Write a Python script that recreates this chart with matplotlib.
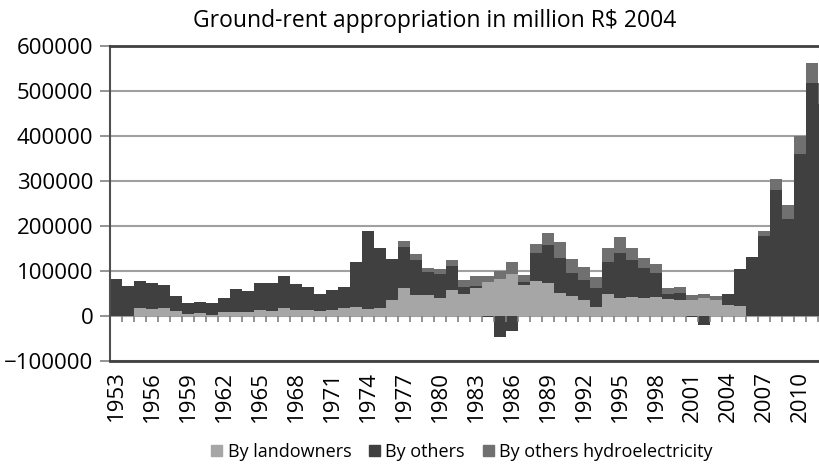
import numpy as np
import matplotlib.pyplot as plt
from matplotlib.patches import Patch

years = list(range(1953, 2013))
# million R$ 2004
landowners = [0, 0, 18000, 16000, 17000, 11000, 4000, 7000, 2000, 10000,
              10000, 10000, 13000, 12000, 18000, 14000, 14000, 12000, 14000, 17000,
              20000, 15000, 18000, 35000, 62000, 47000, 46000, 41000, 57000, 48000,
              63000, 76000, 82000, 94000, 68000, 77000, 74000, 51000, 45000, 35000,
              21000, 50000, 41000, 42000, 40000, 42000, 38000, 35000, 36000, 40000,
              35000, 25000, 22000, 0, 0, 0, 0, 0, 0, 0]
others = [83000, 67000, 60000, 58000, 53000, 34000, 26000, 25000, 28000, 30000,
          49000, 45000, 61000, 62000, 71000, 58000, 51000, 37000, 43000, 48000,
          100000, 173000, 133000, 92000, 92000, 78000, 52000, 53000, 55000, 16000,
          4000, -3000, -46000, -33000, 7000, 62000, 83000, 78000, 50000, 46000,
          41000, 71000, 99000, 82000, 67000, 53000, 10000, 17000, -3000, -20000,
          0, 25000, 83000, 131000, 177000, 279000, 215000, 359000, 518000, 472000]
hydro = [0, 0, 0, 0, 0, 0, 0, 0, 0, 0,
         0, 0, 0, 0, 0, 0, 0, 0, 0, 0,
         0, 0, 0, 0, 12000, 12000, 9000, 10000, 12000, 17000,
         23000, 14000, 17000, 27000, 17000, 20000, 27000, 35000, 32000, 29000,
         25000, 30000, 36000, 27000, 22000, 21000, 14000, 12000, 10000, 9000,
         9500, 0, 0, 0, 13000, 26000, 32000, 40000, 44000, 46000]

L = np.array(landowners)
O = np.array(others)
H = np.array(hydro)
x = np.arange(len(years))

plt.rcParams['font.family'] = ['Open Sans', 'DejaVu Sans']
fig = plt.figure(figsize=(8.19, 4.72), dpi=100)
# axes runs a little past the right edge, like the cropped original
ax = fig.add_axes([110 / 819, 1 - 361 / 472, 720 / 819, 315 / 472])

c_land, c_oth, c_hyd = '#a6a6a6', '#404040', '#707070'
ax.bar(x, L, width=1.0, color=c_land, zorder=2)
ax.bar(x, O, width=1.0, bottom=np.where(O >= 0, L, 0), color=c_oth, zorder=2)
ax.bar(x, H, width=1.0, bottom=L + np.clip(O, 0, None), color=c_hyd, zorder=2)

ax.set_xlim(-0.5, len(years) - 0.5)
ax.set_ylim(-100000, 600000)
ax.set_yticks(range(-100000, 600001, 100000))
ax.yaxis.grid(True, color='#a0a0a0', lw=1.5)
ax.set_axisbelow(True)
ax.tick_params(axis='y', length=7, width=1.2, color='#808080', labelsize=16, pad=5)

ax.set_xticks(x[::3])
ax.set_xticklabels([str(y) for y in years[::3]], rotation=90, fontsize=16)
ax.tick_params(axis='x', length=0, pad=7)

# little tick marks along the zero line between categories
ax.vlines(x[1:] - 0.5, -13000, 0, color='#808080', lw=1.2, zorder=3)

for s in ['top', 'bottom']:
    ax.spines[s].set_color('#404040')
    ax.spines[s].set_linewidth(2)
ax.spines['left'].set_color('#505050')
ax.spines['left'].set_linewidth(1.5)
ax.spines['right'].set_visible(False)

fig.text(435 / 819, 1 - 21 / 472, 'Ground-rent appropriation in million R$ 2004',
         ha='center', va='center', fontsize=16.5)

handles = [Patch(color=c_land, label='By landowners'),
           Patch(color=c_oth, label='By others'),
           Patch(color=c_hyd, label='By others hydroelectricity')]
fig.legend(handles=handles, loc='center', bbox_to_anchor=(462 / 819, 1 - 452 / 472),
           ncol=3, frameon=False, fontsize=13, handlelength=0.6, handleheight=0.6,
           handletextpad=0.3, columnspacing=1.0)

fig.savefig('out.png', dpi=100)
